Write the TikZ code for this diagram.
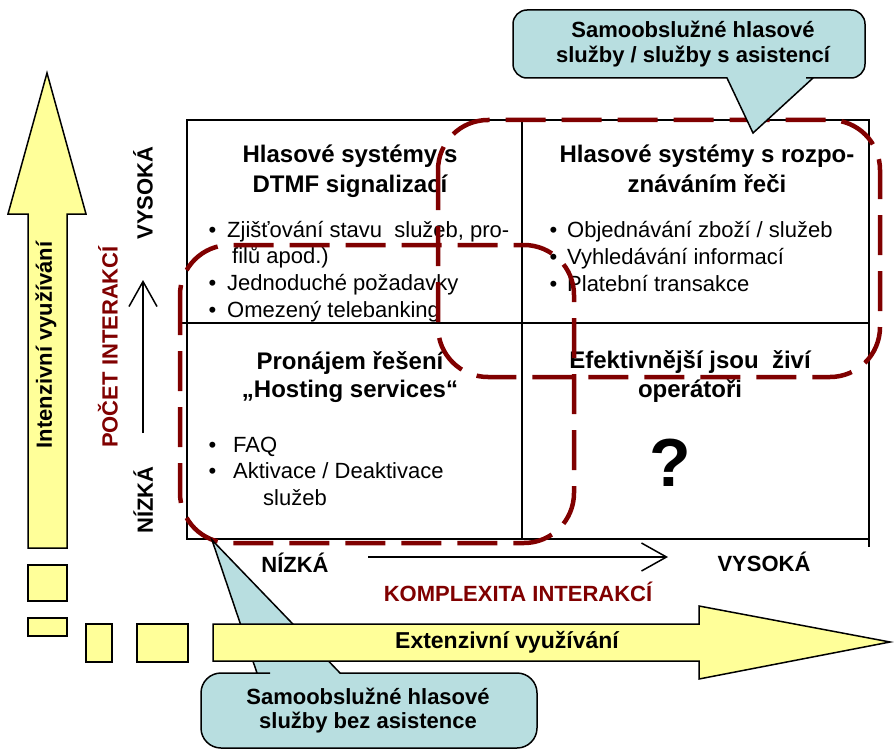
\documentclass[tikz,border=0pt]{standalone}
\usepackage{fontspec}
\setmainfont{Liberation Sans}
\usepackage{tikz}
\usetikzlibrary{arrows.meta, positioning}
\definecolor{zonered}{rgb}{0.5, 0, 0}
\definecolor{paleyellow}{rgb}{1, 1, 0.6}
\definecolor{paleteal}{rgb}{0.72, 0.87, 0.88}

\tikzset{
  bigarrow/.style={draw=black, fill=paleyellow, line width=1.5pt},
  bubble/.style={draw=black, fill=paleteal, line width=1.5pt},
  gridline/.style={line width=1.5pt},
  zone/.style={draw=zonered, line width=4.5pt, dash pattern=on 40pt off 16pt, rounded corners=50pt},
  title/.style={font=\fontsize{24}{28}\selectfont\bfseries, anchor=base, inner sep=0pt},
  item/.style={font=\fontsize{22}{26}\selectfont, anchor=base west, inner sep=0pt},
  axistext/.style={font=\fontsize{22}{26}\selectfont\bfseries, inner sep=0pt},
  axisarrow/.style={line width=1.5pt, -{Straight Barb[length=25pt, width=28pt]}}
}

\begin{document}
\begin{tikzpicture}[x=1pt, y=-1pt]
			\useasboundingbox (0,0) rectangle (894,749);
			
			\draw [bigarrow] (28,548) -- (28,214) -- (8,214) -- (47,73) -- (86,214) -- (67,214) -- (67,548) -- cycle;
			\node [axistext, rotate=90] (intenz) at (46,345) {Intenzivní využívání};
			
			\foreach \x/\y/\w/\h in {28/565/39/36, 28/618/39/18, 86/624/26/38, 137/624/51/38}{
				\draw [bigarrow] (\x,\y) rectangle ++(\w,\h);
			}
			
			\draw [gridline] (187,120) rectangle (869,539);
			\draw [gridline] (522,120) -- (522,539);
			\draw [gridline] (180,323) -- (869,323);
			\draw [gridline] (869,539) -- (869,547);
			
			% levy horni kvadrant
			\node [title] (dtmfa) at (350,163) {Hlasové systémy s};
			\node [title] (dtmfb) at (350,192) {DTMF signalizací};
			\node [item] (dtmf1) at (227,237) {\llap{\textbullet\hspace{11pt}}Zjišťování stavu~ služeb, pro-};
			\node [item] (dtmf1b) at (232,263) {filů apod.)};
			\node [item] (dtmf2) at (227,290) {\llap{\textbullet\hspace{11pt}}Jednoduché požadavky};
			\node [item] (dtmf3) at (227,317) {\llap{\textbullet\hspace{11pt}}Omezený telebanking};
			
			% pravy horni kvadrant
			\node [title] (recia) at (707,163) {Hlasové systémy s rozpo-};
			\node [title] (recib) at (707,192) {znáváním řeči};
			\node [item] (reci1) at (567,237) {\llap{\textbullet\hspace{10pt}}Objednávání zboží / služeb};
			\node [item] (reci2) at (567,264) {\llap{\textbullet\hspace{10pt}}Vyhledávání informací};
			\node [item] (reci3) at (567,291) {\llap{\textbullet\hspace{10pt}}Platební transakce};
			
			% levy dolni kvadrant
			\node [title] (hosta) at (350,369) {Pronájem řešení};
			\node [title] (hostb) at (350,397) {„Hosting services“};
			\node [item] (host1) at (233,452) {\llap{\textbullet\hspace{17pt}}FAQ};
			\node [item] (host2) at (233,478) {\llap{\textbullet\hspace{17pt}}Aktivace / Deaktivace};
			\node [item] (host2b) at (263,505) {služeb};
			
			% pravy dolni kvadrant
			\node [title] (opera) at (690,368) {Efektivnější jsou~ živí};
			\node [title] (operb) at (690,397) {operátoři};
			\node [font=\fontsize{68}{68}\selectfont\bfseries, inner sep=0pt] (otaz) at (670,463) {?};
			
			% osy
			\coordinate (ylow) at (143,433);
			\coordinate (yhigh) at (143,280);
			\draw [axisarrow] (ylow) -- (yhigh);
			\node [axistext, rotate=90] (ynizka) at (143,500) {NÍZKÁ};
			\node [axistext, rotate=90] (yvysoka) at (143,193) {VYSOKÁ};
			\node [axistext, rotate=90, text=zonered] (pocet) at (108,347) {POČET INTERAKCÍ};
			
			\coordinate (xlow) at (368,557);
			\coordinate (xhigh) at (668,557);
			\draw [axisarrow] (xlow) -- (xhigh);
			\node [axistext] (xnizka) at (295,563) {NÍZKÁ};
			\node [axistext] (xvysoka) at (764,562) {VYSOKÁ};
			\node [axistext, text=zonered] (komplex) at (518,592) {KOMPLEXITA INTERAKCÍ};
			
			\draw [zone] (438,120) rectangle (880,377);
			\draw [zone] (180,245) rectangle (574,543);
			
			\draw [bubble] (370,748) [rounded corners=20pt] -| (201,673) -- (250,673) [sharp corners] -- (257,673) -- (212,540) -- (340,673) -- (347,673) [rounded corners=20pt] -| (537,748) -- cycle;
			\node [axistext, anchor=base] (bezas1) at (368,704) {Samoobslužné hlasové};
			\node [axistext, anchor=base] (bezas2) at (368,728) {služby bez asistence};
			
			\draw [bigarrow] (213,624) -- (699,624) -- (699,606) -- (890,642) -- (699,679) -- (699,661) -- (213,661) -- cycle;
			\node [axistext, font=\fontsize{23}{27}\selectfont\bfseries] (extenz) at (507,642) {Extenzivní využívání};
			
			\draw [bubble] (690,10) [rounded corners=14pt] -| (865,78) -- (820,78) [sharp corners] -- (813,78) -- (753,133) -- (727,78) -- (720,78) [rounded corners=14pt] -| (513,10) -- cycle;
			\node [axistext, anchor=base] (sasist1) at (693,38) {Samoobslužné hlasové};
			\node [axistext, anchor=base] (sasist2) at (693,63) {služby / služby s asistencí};
		\end{tikzpicture}
\end{document}
